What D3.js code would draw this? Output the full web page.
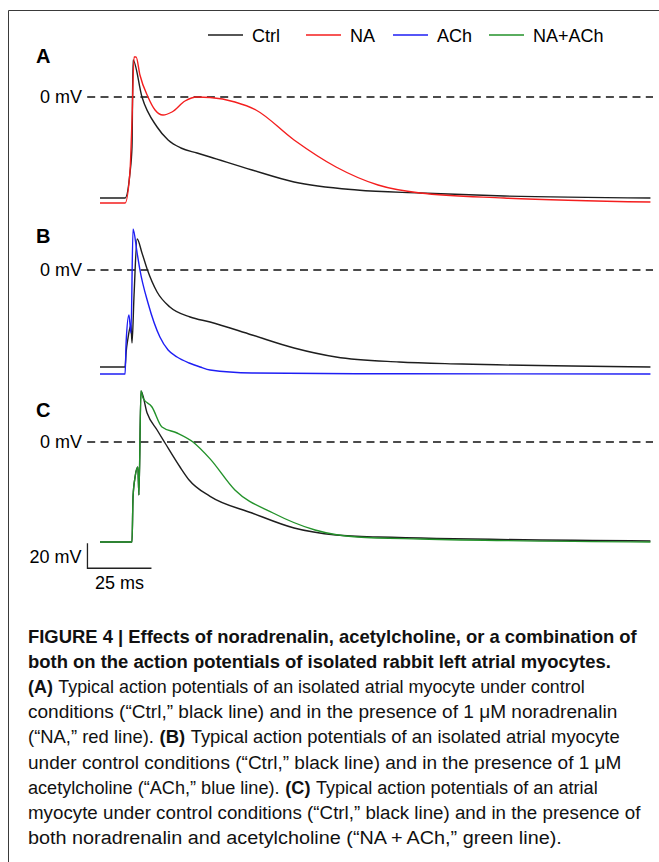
<!DOCTYPE html>
<html>
<head>
<meta charset="utf-8">
<script src="https://cdn.jsdelivr.net/npm/d3@7"></script>
<style>
  body { margin: 0; background: #fff; }
  svg { display: block; }
</style>
</head>
<body>
<svg width="659" height="862"></svg>
<script>
// legend
var seriesNames = ["Ctrl", "NA", "ACh", "NA+ACh"];
var seriesColors = ["#1e1e1e", "#f41e1e", "#1e1ef4", "#23922a"];

// traces: [time ms, membrane potential mV]
var ctrlA = [[0, -80.8], [9.8, -80.8], [11.7, -60.8], [12.5, -40], [12.9, 29.6], [16.4, 0], [22.3, -24],
    [26.6, -34.4], [31.6, -40.8], [37.9, -44.8], [43, -48], [59.4, -58.4], [75.8, -68], [100.4, -74.4],
    [125, -76.8], [157.8, -79.2], [215, -80.8]];
var naA = [[0, -84.8], [9.8, -84.8], [11.7, -60], [12.5, -18.4], [13.3, 32], [14.1, 32], [15.6, 17.6],
    [18.75, 0], [21.5, -10.4], [24.6, -14.4], [28.1, -12], [33.2, -3.2], [37.9, 0], [43, -0.4],
    [52.7, -4], [60.9, -10.4], [75.8, -34.4], [92.2, -56], [108.6, -70.4], [125, -76.8], [157.8, -80.8],
    [215, -84]];
var ctrlB = [[0, -77.6], [9.8, -77.6], [10.2, -66], [10.9, -55], [12.1, -44], [12.5, -58.4], [13.3, -20],
    [14.5, 24.8], [16.4, 13.6], [18.4, 0.8], [22.3, -17.6], [27.3, -29.6], [35.2, -37.6], [43, -41.6],
    [59.4, -52], [75.8, -62.4], [92.2, -69.6], [116.8, -73.6], [141.4, -75.2], [215, -77.6]];
var achB = [[0, -83.2], [9.8, -83.2], [10.2, -58], [11.3, -36], [12.1, -50.4], [12.9, 32.8], [14.5, 13.6],
    [15.6, 0], [18.75, -26.4], [23.4, -53.6], [26.6, -64], [30.1, -69.6], [34.8, -74.4], [39.1, -77.6],
    [43, -80], [59.4, -82.4], [100, -83], [215, -83.2]];
var ctrlC = [[0, -80], [12.5, -80], [12.9, -44], [13.7, -28], [14.8, -20], [15.2, -42.4], [16.0, 40.8],
    [18.4, 23.2], [22.3, 9.6], [25.4, -0.8], [31.25, -20], [34.8, -30.4], [43, -43.5], [59.4, -56.8],
    [75.8, -68.8], [92.2, -74.4], [108.6, -76], [215, -79.2]];
var naAchC = [[0, -80], [12.5, -80], [12.9, -44], [13.7, -28], [14.8, -20], [15.2, -42.4], [16.0, 40.8],
    [16.8, 35.2], [20.3, 28], [24.2, 12], [30.1, 7.2], [36.3, 0], [43, -13.5], [52.7, -38.4],
    [67.6, -56.8], [84, -70.4], [100.4, -76], [125, -77.6], [215, -80]];

var panelLabels = ["A", "B", "C"];
var zeroLabel = "0 mV";
var scaleBarV = 20; // mV
var scaleBarT = 25; // ms

var captionLines = [
    [["b", "FIGURE 4 | Effects of noradrenalin, acetylcholine, or a combination of"]],
    [["b", "both on the action potentials of isolated rabbit left atrial myocytes."]],
    [["b", "(A)"], ["n", "Typical action potentials of an isolated atrial myocyte under control"]],
    [["n", "conditions (\u201cCtrl,\u201d black line) and in the presence of 1 \u03bcM noradrenalin"]],
    [["n", "(\u201cNA,\u201d red line)."], ["b", "(B)"], ["n", "Typical action potentials of an isolated atrial myocyte"]],
    [["n", "under control conditions (\u201cCtrl,\u201d black line) and in the presence of 1 \u03bcM"]],
    [["n", "acetylcholine (\u201cACh,\u201d blue line)."], ["b", "(C)"], ["n", "Typical action potentials of an atrial"]],
    [["n", "myocyte under control conditions (\u201cCtrl,\u201d black line) and in the presence of"]],
    [["n", "both noradrenalin and acetylcholine (\u201cNA\u2009+\u2009ACh,\u201d green line)."]]
];
// right edge of each caption line in the figure
var captionRight = [637, 611, 585, 618, 620, 622, 598, 641, 562];

var svg = d3.select("svg");
var font = "'Liberation Sans', Arial, Helvetica, sans-serif";

// frame
svg.append("path")
    .attr("d", "M8.5,862 V10.5 H659")
    .attr("fill", "none")
    .attr("stroke", "#3a3a3a")
    .attr("stroke-width", 1);

var x = d3.scaleLinear().domain([0, 216]).range([100, 653]);

var panels = [
    { zero: 97, labelY: 63, traces: [[ctrlA, 0], [naA, 1]] },
    { zero: 270, labelY: 243, traces: [[ctrlB, 0], [achB, 2]] },
    { zero: 442, labelY: 417, traces: [[ctrlC, 0], [naAchC, 3]] }
];

var ys = [];
panels.forEach(function (p, i) {
    var y = d3.scaleLinear().domain([0, scaleBarV]).range([p.zero, p.zero - 25]);
    ys.push(y);
    var g = svg.append("g");

    g.append("text")
        .attr("x", 36)
        .attr("y", p.labelY)
        .attr("font-family", font)
        .attr("font-weight", "bold")
        .attr("font-size", 20)
        .text(panelLabels[i]);

    g.append("text")
        .attr("x", 82)
        .attr("y", y(0) + 6)
        .attr("text-anchor", "end")
        .attr("font-family", font)
        .attr("font-size", 18)
        .text(zeroLabel);

    g.append("line")
        .attr("x1", x(-5))
        .attr("x2", x(216))
        .attr("y1", y(0))
        .attr("y2", y(0))
        .attr("stroke", "#111")
        .attr("stroke-width", 1.3)
        .attr("stroke-dasharray", "8,5.3");

    var line = d3.line()
        .x(function (d) { return x(d[0]); })
        .y(function (d) { return y(d[1]); })
        .curve(d3.curveMonotoneX);

    p.traces.forEach(function (t) {
        g.append("path")
            .attr("d", line(t[0]))
            .attr("fill", "none")
            .attr("stroke", seriesColors[t[1]])
            .attr("stroke-width", 1.4)
            .attr("stroke-linejoin", "round");
    });
});

// scale bar, drawn against panel C's scales
var yc = ys[2];
var t0 = -4.9, v0 = -101;
svg.append("path")
    .attr("d", "M" + x(t0) + "," + yc(v0 + scaleBarV) + "V" + yc(v0) + "H" + x(t0 + scaleBarT))
    .attr("fill", "none")
    .attr("stroke", "#222")
    .attr("stroke-width", 1.3);
svg.append("text")
    .attr("x", x(t0) - 6)
    .attr("y", yc(v0 + scaleBarV / 2) + 7)
    .attr("text-anchor", "end")
    .attr("font-family", font)
    .attr("font-size", 18)
    .text(scaleBarV + " mV");
svg.append("text")
    .attr("x", x(t0 + scaleBarT / 2))
    .attr("y", yc(v0) + 21)
    .attr("text-anchor", "middle")
    .attr("font-family", font)
    .attr("font-size", 18)
    .text(scaleBarT + " ms");

// legend
var legendX = [208, 306, 393, 489];
var legend = svg.append("g");
seriesNames.forEach(function (name, i) {
    legend.append("line")
        .attr("x1", legendX[i])
        .attr("x2", legendX[i] + 35)
        .attr("y1", 35)
        .attr("y2", 35)
        .attr("stroke", seriesColors[i])
        .attr("stroke-width", 1.6);
    legend.append("text")
        .attr("x", legendX[i] + 44)
        .attr("y", 41.5)
        .attr("font-family", font)
        .attr("font-size", 18)
        .text(name);
});

// caption: each bold / plain run is its own text, squeezed horizontally
// (scale transform) so the line ends where the figure's condensed face ends it
var capSize = 19;
var cap = svg.append("g")
    .attr("font-family", font)
    .attr("font-size", capSize)
    .attr("fill", "#111");
captionLines.forEach(function (parts, i) {
    var yy = 643 + i * 25.1;
    var runs = parts.map(function (pt) {
        var g = cap.append("g");
        g.append("text")
            .attr("x", 0)
            .attr("y", 0)
            .attr("font-weight", pt[0] === "b" ? "bold" : "normal")
            .text(pt[1]);
        return g;
    });
    var widths = runs.map(function (r) { return r.select("text").node().getComputedTextLength(); });
    var gap = 0.3 * capSize;
    var k = (captionRight[i] - 28) / (d3.sum(widths) + gap * (runs.length - 1));
    var xx = 28;
    runs.forEach(function (r, j) {
        r.attr("transform", "translate(" + xx + "," + yy + ") scale(" + k + ",1)");
        xx += (widths[j] + gap) * k;
    });
});
</script>
</body>
</html>
